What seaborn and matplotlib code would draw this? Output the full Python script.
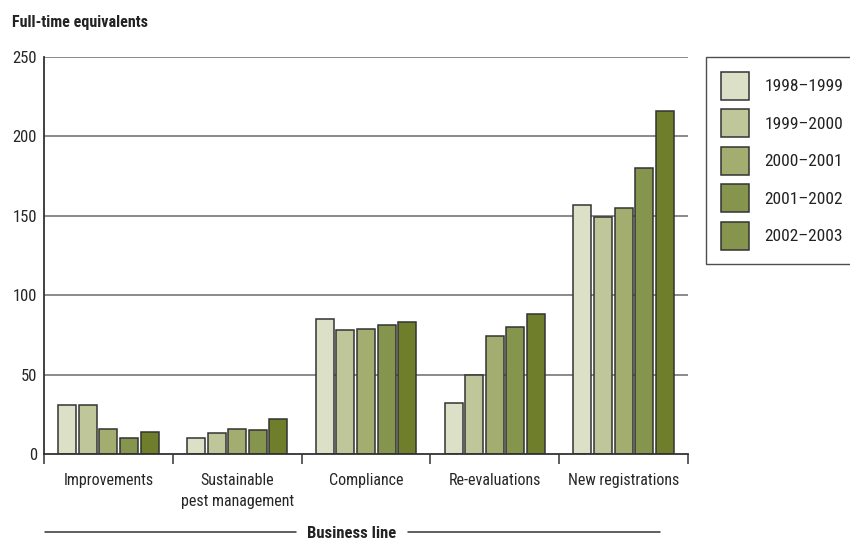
import matplotlib
matplotlib.use("Agg")
import matplotlib.pyplot as plt
from matplotlib import font_manager
from matplotlib.lines import Line2D
import seaborn as sns
import pandas as pd

categories = ["Improvements", "Sustainable\npest management", "Compliance",
              "Re-evaluations", "New registrations"]
years = ["1998–1999", "1999–2000", "2000–2001", "2001–2002", "2002–2003"]
v_1998 = [31, 10, 85, 32, 157]
v_1999 = [31, 13, 78, 50, 149]
v_2000 = [16, 16, 79, 74, 155]
v_2001 = [10, 15, 81, 80, 180]
v_2002 = [14, 22, 83, 88, 216]
y_ticks = [0, 50, 100, 150, 200, 250]

palette = ["#DCE0C6", "#BEC69A", "#A3AD70", "#86954E", "#6E7E2A"]

sns.set_theme(style="white")

# pick a condensed font if one is installed
fonts = font_manager.fontManager.ttflist
names = {f.name for f in fonts}
fam, stretch, scale = "DejaVu Sans", "normal", 0.88
for cand in ["Roboto Condensed", "Liberation Sans Narrow", "Open Sans Condensed",
             "Noto Sans Condensed", "DejaVu Sans Condensed"]:
    if cand in names:
        fam, stretch, scale = cand, "normal", 1.0
        break
else:
    if any(f.name == "DejaVu Sans" and f.stretch == "condensed" for f in fonts):
        fam, stretch, scale = "DejaVu Sans", "condensed", 0.96
    elif any(f.name == "Roboto" and f.stretch == "condensed" for f in fonts):
        fam, stretch, scale = "Roboto", "condensed", 1.0

plt.rcParams["font.family"] = [fam, "DejaVu Sans"]
plt.rcParams["font.stretch"] = stretch
plt.rcParams["text.color"] = "#222222"

rows = []
for yr, vals in zip(years, [v_1998, v_1999, v_2000, v_2001, v_2002]):
    for c, v in zip(categories, vals):
        rows.append({"cat": c, "year": yr, "fte": v})
df = pd.DataFrame(rows)

fig = plt.figure(figsize=(8.5, 5.41), dpi=100)
ax = fig.add_axes([44 / 850, 1 - 454 / 541, (688 - 44) / 850, (454 - 57) / 541])

for g in [50, 100, 150, 200, 250]:
    ax.axhline(g, color="#777777", lw=1.2, zorder=0)

sns.barplot(data=df, x="cat", y="fte", hue="year", palette=palette, ax=ax,
            width=0.8, gap=0.12, edgecolor="#333333", linewidth=1.1,
            saturation=1, order=categories, hue_order=years, zorder=2)

ax.set_ylim(0, 250)
ax.set_xlim(-0.5, 4.5)
ax.set_yticks(y_ticks)
ax.set_yticklabels([str(t) for t in y_ticks], fontsize=12 * scale)
ax.tick_params(axis="y", length=0, pad=5)
ax.set_xticks(range(len(categories)))
ax.set_xticklabels(categories, fontsize=11.5 * scale, linespacing=1.45)
ax.tick_params(axis="x", which="major", length=0, pad=14)
ax.set_xticks([i - 0.5 for i in range(len(categories) + 1)], minor=True)
ax.tick_params(axis="x", which="minor", length=7, width=1.1, color="#333333",
               direction="out", bottom=True)
ax.set_xlabel("")
ax.set_ylabel("")
for s in ["top", "right"]:
    ax.spines[s].set_visible(False)
for s in ["left", "bottom"]:
    ax.spines[s].set_color("#333333")
    ax.spines[s].set_linewidth(1.3)

handles, labels = ax.get_legend_handles_labels()
ax.get_legend().remove()
leg = fig.legend(handles, labels, loc="upper left",
                 bbox_to_anchor=(706 / 850, 1 - 57 / 541), fontsize=12.5 * scale,
                 frameon=True, fancybox=False, edgecolor="#222222",
                 handlelength=1.6, handleheight=2.1, labelspacing=0.55,
                 handletextpad=0.9, borderpad=0.85, borderaxespad=0)
leg.get_frame().set_linewidth(1.0)
patches = leg.get_patches()
patches[4].set_facecolor(palette[3])

fig.text(12 / 850, 1 - 23 / 541, "Full-time equivalents", fontsize=11.5 * scale,
         fontweight="bold", va="center", ha="left")
fig.text(352 / 850, 1 - 533 / 541, "Business line", fontsize=12 * scale,
         fontweight="bold", va="center", ha="center")
yl = 1 - 532 / 541
fig.add_artist(Line2D([45 / 850, 296 / 850], [yl, yl], color="#333333", lw=1.1))
fig.add_artist(Line2D([408 / 850, 660 / 850], [yl, yl], color="#333333", lw=1.1))

fig.savefig("out.png", dpi=100)
